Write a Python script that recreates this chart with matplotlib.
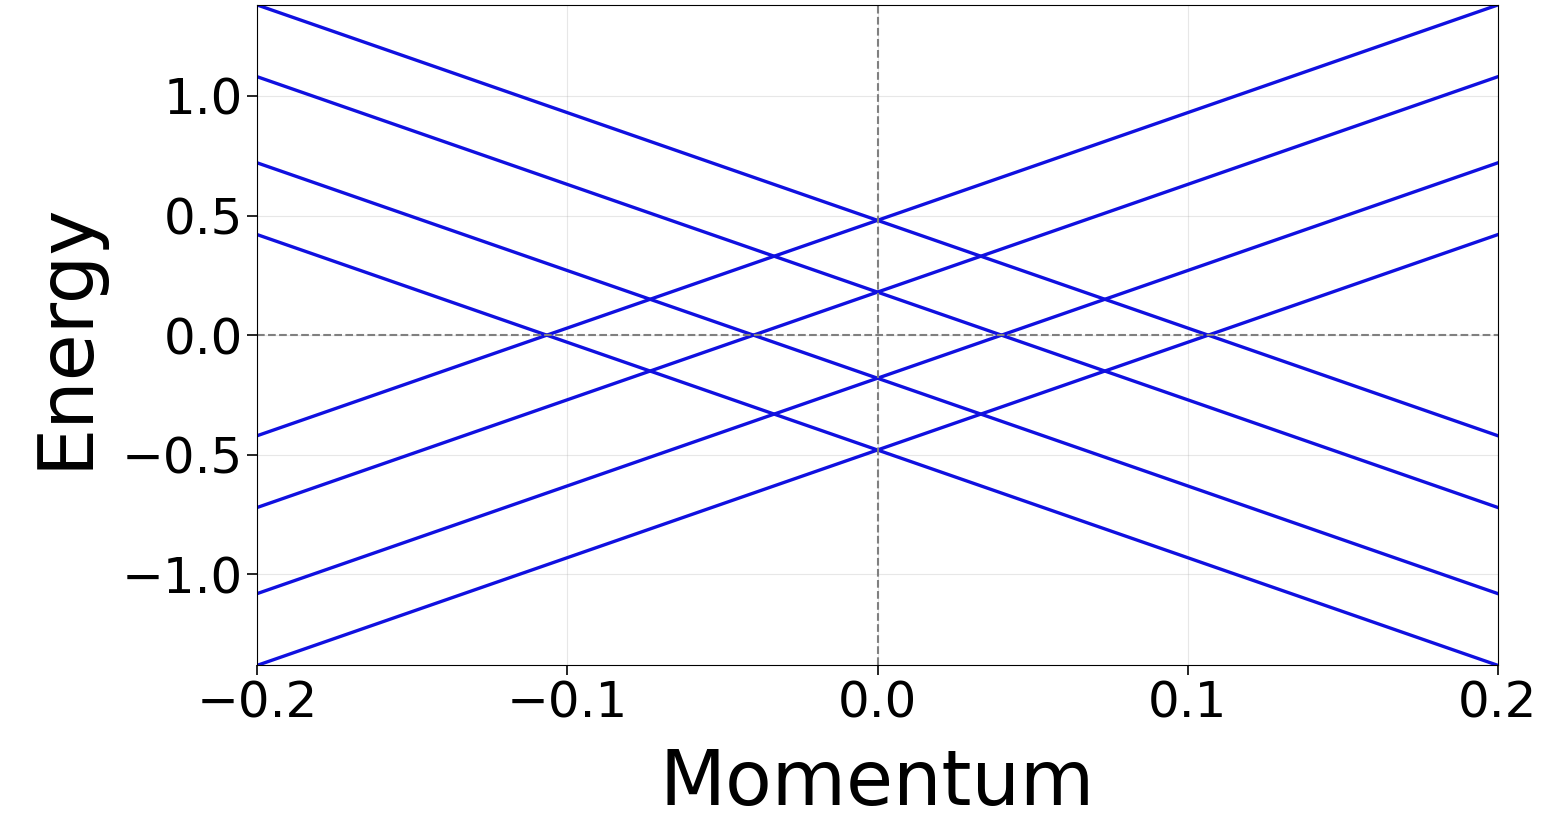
import matplotlib.pyplot as plt
import numpy as np

# momentum samples and band energies
momentum = [-0.2, 0.0, 0.2]

bands_down = [
    [1.38, 0.48, -0.42],
    [1.08, 0.18, -0.72],
    [0.72, -0.18, -1.08],
    [0.42, -0.48, -1.38],
]
bands_up = [
    [-0.42, 0.48, 1.38],
    [-0.72, 0.18, 1.08],
    [-1.08, -0.18, 0.72],
    [-1.38, -0.48, 0.42],
]

xticks = [-0.2, -0.1, 0.0, 0.1, 0.2]
yticks = [-1.0, -0.5, 0.0, 0.5, 1.0]

fig, ax = plt.subplots(figsize=(15.6, 8.4), dpi=100)
fig.subplots_adjust(left=0.165, right=0.96, top=0.994, bottom=0.208)

for band in bands_down + bands_up:
    ax.plot(momentum, band, color='#1010e0', linewidth=2.4)

ax.axhline(0, color='gray', linestyle='--', linewidth=1.5)
ax.axvline(0, color='gray', linestyle='--', linewidth=1.5)

ax.set_xlim(-0.2, 0.2)
ax.set_ylim(-1.38, 1.38)
ax.set_xticks(xticks)
ax.set_yticks(yticks)
ax.grid(True, alpha=0.3)

ax.tick_params(labelsize=36, length=7, width=1.2)
ax.set_xlabel('Momentum', fontsize=55, labelpad=14)
ax.set_ylabel('Energy', fontsize=55, labelpad=14)

plt.savefig('out.png', dpi=100)
